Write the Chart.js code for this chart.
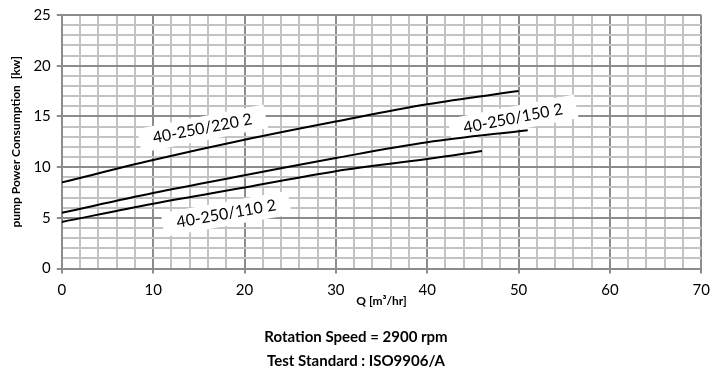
<!DOCTYPE html>
<html>
<head>
<meta charset="utf-8">
<script src="https://cdn.jsdelivr.net/npm/chart.js@4"></script>
<style>
  html, body { margin: 0; padding: 0; background: #fff; }
  #wrap { width: 718px; height: 373px; }
</style>
</head>
<body>
<div id="wrap"><canvas id="pump-chart"></canvas></div>
<script>
// flow Q [m3/hr] and power [kw]
const q_220 = [0, 10, 20, 30, 40, 50]
const kw_220 = [8.5, 10.7, 12.7, 14.5, 16.2, 17.5]
const q_150 = [0, 10, 20, 30, 40, 51]
const kw_150 = [5.5, 7.45, 9.2, 10.9, 12.45, 13.65]
const q_110 = [0, 10, 20, 30, 40, 46]
const kw_110 = [4.6, 6.4, 8.0, 9.6, 10.8, 11.6]

const seriesNames = ["40-250/220 2", "40-250/150 2", "40-250/110 2"]
const subtitleLines = ["Rotation Speed = 2900 rpm", "Test Standard : ISO9906/A"]

const toPoints = (xs, ys) => xs.map((x, i) => ({ x: x, y: ys[i] }));

// curve labels: data position + angle
const curveLabels = [
  { text: seriesNames[0], x: 15.4, y: 13.8, angle: -11 },
  { text: seriesNames[1], x: 49.4, y: 14.8, angle: -11 },
  { text: seriesNames[2], x: 18.0, y: 5.4, angle: -10 }
];

// drawn under the curves, like the reference
const labelPlugin = {
  id: 'curveLabels',
  beforeDatasetsDraw(chart) {
    const ctx = chart.ctx;
    const xs = chart.scales.x, ys = chart.scales.y;
    ctx.save();
    ctx.font = '16px Lato';
    ctx.textAlign = 'center';
    ctx.textBaseline = 'middle';
    curveLabels.forEach(l => {
      const px = xs.getPixelForValue(l.x), py = ys.getPixelForValue(l.y);
      const w = ctx.measureText(l.text).width;
      ctx.save();
      ctx.translate(px, py);
      ctx.rotate(l.angle * Math.PI / 180);
      ctx.fillStyle = '#fff';
      ctx.fillRect(-w / 2 - 14, -12, w + 28, 24);
      ctx.fillStyle = '#000';
      ctx.fillText(l.text, 0, 0);
      ctx.restore();
    });
    ctx.restore();
  }
};

const minorColor = '#c3c3c3';
const majorColor = '#8c8c8c';

const lineSet = (data) => ({
  data: data,
  borderColor: '#000',
  borderWidth: 2,
  pointRadius: 0,
  tension: 0.35,
  fill: false
});

new Chart(document.getElementById('pump-chart'), {
  type: 'line',
  data: {
    datasets: [
      lineSet(toPoints(q_220, kw_220)),
      lineSet(toPoints(q_150, kw_150)),
      lineSet(toPoints(q_110, kw_110))
    ]
  },
  options: {
    responsive: true,
    maintainAspectRatio: false,
    animation: false,
    layout: { padding: { left: 9, right: 15, top: 2, bottom: 0 } },
    plugins: {
      legend: { display: false },
      tooltip: { enabled: false },
      title: {
        display: true,
        position: 'bottom',
        text: subtitleLines,
        color: '#000',
        font: { family: 'Lato', size: 15, weight: 'bold', lineHeight: 1.6 },
        padding: { top: 17, bottom: 0 }
      }
    },
    scales: {
      x: {
        type: 'linear',
        min: 0,
        max: 70,
        ticks: {
          stepSize: 2,
          autoSkip: false,
          maxRotation: 0,
          color: '#000',
          font: { family: 'Lato', size: 15 },
          padding: 8,
          callback: v => (v % 10 === 0 ? v : '')
        },
        grid: {
          color: c => (c.tick.value % 10 === 0 ? majorColor : minorColor),
          lineWidth: 2,
          tickLength: 5,
          tickColor: c => (c.tick.value % 10 === 0 ? majorColor : 'rgba(0,0,0,0)')
        },
        border: { color: majorColor, width: 2 },
        title: {
          display: true,
          text: 'Q [m³/hr]',
          color: '#000',
          font: { family: 'Lato', size: 12, weight: 'bold' },
          padding: { top: -14, bottom: 0 }
        }
      },
      y: {
        type: 'linear',
        min: 0,
        max: 25,
        ticks: {
          stepSize: 1,
          autoSkip: false,
          color: '#000',
          font: { family: 'Lato', size: 15 },
          padding: 6,
          callback: v => (v % 5 === 0 ? v : '')
        },
        grid: {
          color: c => (c.tick.value % 5 === 0 ? majorColor : minorColor),
          lineWidth: 2,
          tickLength: 5,
          tickColor: c => (c.tick.value % 5 === 0 ? majorColor : 'rgba(0,0,0,0)')
        },
        border: { color: majorColor, width: 2 },
        title: {
          display: true,
          text: 'pump Power Consumption  [kw]',
          color: '#000',
          font: { family: 'Lato', size: 12, weight: 'bold' },
          padding: { top: 0, bottom: 4 }
        }
      }
    }
  },
  plugins: [labelPlugin]
});
</script>
</body>
</html>
